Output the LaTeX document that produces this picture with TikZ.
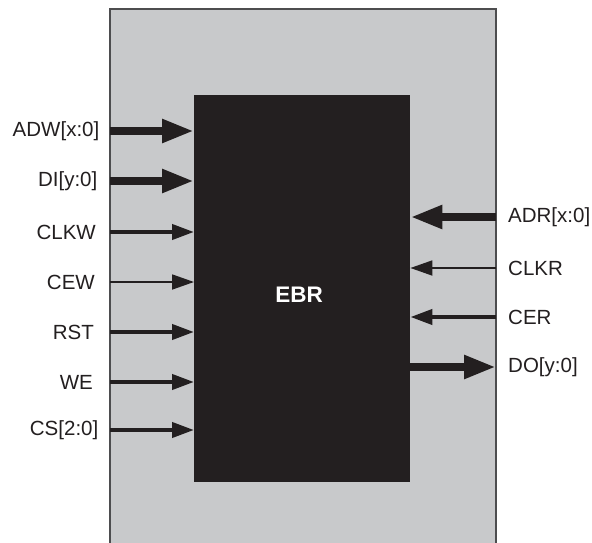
\documentclass[tikz,border=0pt]{standalone}
\usepackage{fontspec}
\setmainfont{Liberation Sans}
\usetikzlibrary{arrows.meta}
\definecolor{panel}{HTML}{C8C9CB}
\definecolor{ink}{HTML}{231F20}
\definecolor{edge}{HTML}{4D4D4F}
\tikzset{
  lbl/.style={font=\fontsize{20.5}{24}\selectfont, text=ink, inner sep=0pt},
  busarrow/.style={draw=ink, line width=8pt, -{Triangle[length=32pt,width=22pt]}},
  sigarrow/.style={draw=ink, line width=4pt, -{Triangle[length=22pt,width=15pt]}},
  thinarrow/.style={draw=ink, line width=1.8pt, -{Triangle[length=22pt,width=15pt]}},
}
\begin{document}
\begin{tikzpicture}[x=1pt,y=-1pt]
\useasboundingbox (0,0) rectangle (592,543);
\fill[white] (0,0) rectangle (592,543);
\path[fill=panel, draw=edge, line width=1.5pt] (110,9) -- (110,548) -- (496,548) -- (496,9) -- cycle;
\node[fill=ink, minimum width=216pt, minimum height=387pt, inner sep=0pt, anchor=north west] (ebr) at (194,95) {};
\node[font=\bfseries\fontsize{22.5}{26}\selectfont, text=white, inner sep=0pt] (ebrl) at (299,295) {EBR};
% left labels
\node[lbl, anchor=east] (adw) at (99.5,131) {ADW[x:0]};
\node[lbl, anchor=east] (di) at (97.5,181) {DI[y:0]};
\node[lbl, anchor=east] (clkw) at (96,232) {CLKW};
\node[lbl, anchor=east] (cew) at (95,282) {CEW};
\node[lbl, anchor=east] (rst) at (94,332) {RST};
\node[lbl, anchor=east] (we) at (93,382) {WE};
\node[lbl, anchor=east] (cs) at (98.5,430) {CS[2:0]};
% right labels
\node[lbl, anchor=west] (adr) at (508,217) {ADR[x:0]};
\node[lbl, anchor=west] (clkr) at (508,268) {CLKR};
\node[lbl, anchor=west] (cer) at (508,317) {CER};
\node[lbl, anchor=west] (do) at (508,367) {DO[y:0]};
% edge coordinates
\coordinate (l1) at (110,131);
\coordinate (l2) at (110,181);
\coordinate (l3) at (110,232);
\coordinate (l4) at (110,282);
\coordinate (l5) at (110,332);
\coordinate (l6) at (110,382);
\coordinate (l7) at (110,430);
\coordinate (r1) at (496,217);
\coordinate (r2) at (496,268);
\coordinate (r3) at (496,317);
\coordinate (r4) at (496,367);
\draw[busarrow] (l1) -- (ebr.west |- l1);
\draw[busarrow] (l2) -- (ebr.west |- l2);
\draw[sigarrow] (l3) -- (ebr.west |- l3);
\draw[thinarrow] (l4) -- (ebr.west |- l4);
\draw[sigarrow] (l5) -- (ebr.west |- l5);
\draw[sigarrow] (l6) -- (ebr.west |- l6);
\draw[sigarrow] (l7) -- (ebr.west |- l7);
\draw[busarrow] (r1) -- (ebr.east |- r1);
\draw[thinarrow] (r2) -- (ebr.east |- r2);
\draw[sigarrow] (r3) -- (ebr.east |- r3);
\draw[busarrow] (ebr.east |- r4) -- (r4);
\end{tikzpicture}
\end{document}
